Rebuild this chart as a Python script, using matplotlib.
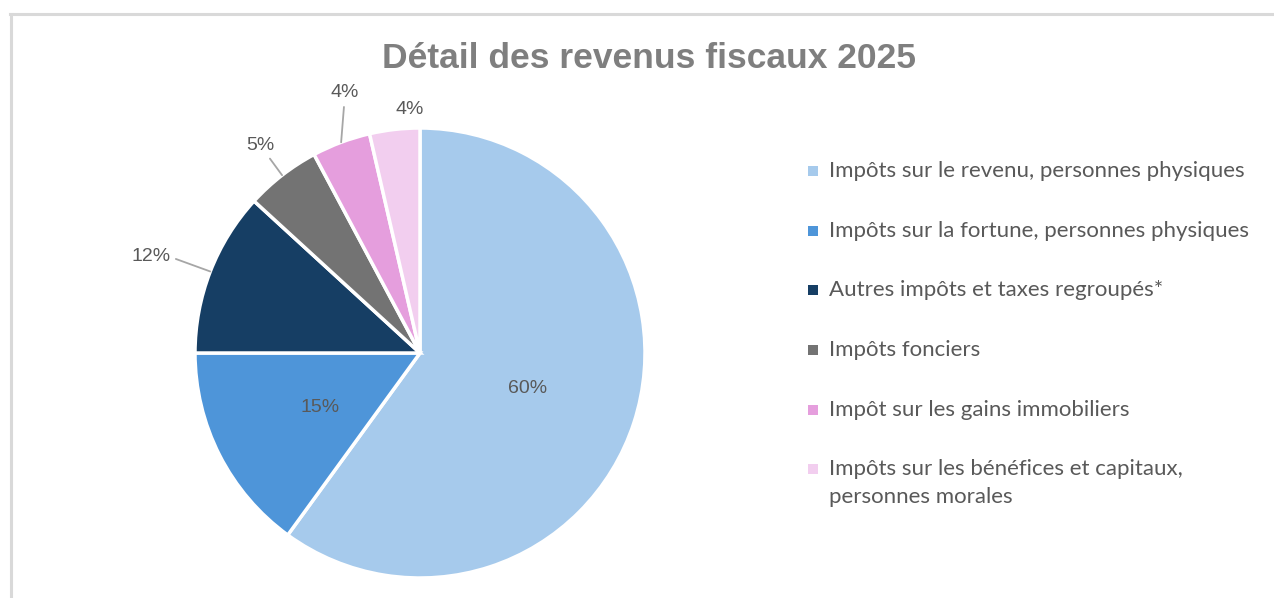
import numpy as np
import matplotlib
matplotlib.use("Agg")
import matplotlib.pyplot as plt
from matplotlib.patches import Rectangle
from matplotlib.lines import Line2D

title = "Détail des revenus fiscaux 2025"
categories = [
    "Impôts sur le revenu, personnes physiques",
    "Impôts sur la fortune, personnes physiques",
    "Autres impôts et taxes regroupés*",
    "Impôts fonciers",
    "Impôt sur les gains immobiliers",
    "Impôts sur les bénéfices et capitaux,\npersonnes morales",
]
shares = [60.0, 15.0, 11.8, 5.4, 4.2, 3.6]
colors = ["#A6CAEC", "#4E95D9", "#163E64", "#737373", "#E59EDD", "#F2CEEF"]

W, H = 1274, 598
fig = plt.figure(figsize=(W / 100, H / 100), dpi=100)

# chart frame (light gray, cut off at right/bottom)
fig.add_artist(Line2D([10 / W, 1], [1 - 14 / H, 1 - 14 / H], color="#d9d9d9", lw=2.2))
fig.add_artist(Line2D([11 / W, 11 / W], [0, 1 - 14 / H], color="#d9d9d9", lw=2.2))

cx, cy, r = 420, 353, 225
ax = fig.add_axes([(cx - r) / W, (H - cy - r) / H, 2 * r / W, 2 * r / H])
wedges, _ = ax.pie(shares, colors=colors, startangle=90, counterclock=False,
                   radius=1, wedgeprops=dict(edgecolor="white", linewidth=2.5))
ax.set_xlim(-1, 1)
ax.set_ylim(-1, 1)
ax.set_aspect("equal")
ax.axis("off")

label_kw = dict(fontsize=14, color="#595959", family="Liberation Sans")
label_pos = [(0.476, -0.156), (-0.444, -0.24), (-1.196, 0.427),
             (-0.711, 0.924), (-0.333, 1.156), (-0.044, 1.08)]
leaders = [None, None, "angle,angleA=0,angleB=-20,rad=0", "arc3", "arc3", None]
for w, val, (lx, ly), conn in zip(wedges, shares, label_pos, leaders):
    txt = f"{val:.0f}%"
    mid = np.deg2rad((w.theta1 + w.theta2) / 2)
    if conn is None:
        ax.text(lx, ly, txt, ha="center", va="center", **label_kw)
    else:
        ax.annotate(txt, xy=(np.cos(mid), np.sin(mid)), xytext=(lx, ly),
                    ha="center", va="center", annotation_clip=False,
                    arrowprops=dict(arrowstyle="-", color="#a6a6a6", lw=1.3,
                                    shrinkA=2, shrinkB=0, connectionstyle=conn),
                    **label_kw)

fig.text(649 / W, 1 - 58 / H, title, ha="center", va="center", fontsize=25.5,
         fontweight="bold", color="#7f7f7f", family="Liberation Sans")

# legend
row_y = [171, 231, 290, 350, 410, 469]
sq = 10
for y, lab, c in zip(row_y, categories, colors):
    fig.add_artist(Rectangle((808 / W, 1 - (y + sq / 2) / H), sq / W, sq / H,
                             facecolor=c, edgecolor="none"))
    if "\n" in lab:
        fig.text(829 / W, 1 - (y - 10) / H, lab, ha="left", va="top",
                 fontsize=16, color="#595959", family="Lato", linespacing=1.5)
    else:
        fig.text(829 / W, 1 - y / H, lab, ha="left", va="center",
                 fontsize=16, color="#595959", family="Lato")

fig.savefig("out.png", dpi=100)
